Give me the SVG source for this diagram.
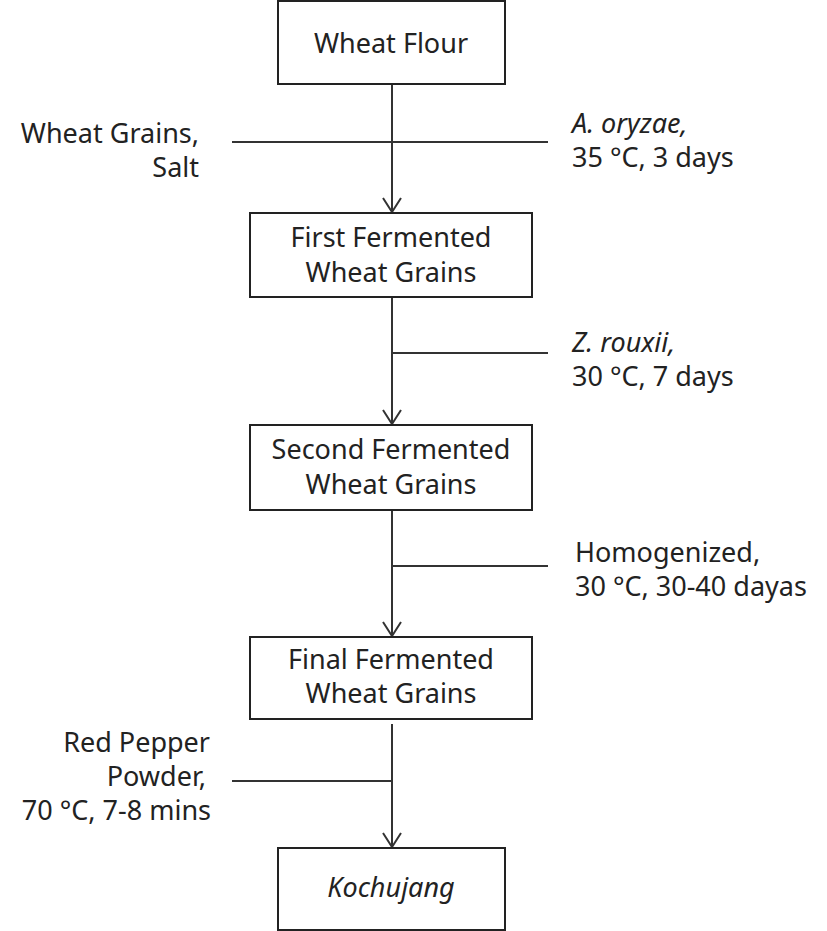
<svg xmlns="http://www.w3.org/2000/svg" width="827" height="931" viewBox="0 0 827 931">
<style>
.box{fill:#fff;stroke:#222;stroke-width:2}
.ln{stroke:#333;stroke-width:2;fill:none}
text{font-family:"Noto Sans","Open Sans",sans-serif;font-size:27px;fill:#222}
.c{text-anchor:middle}
.r{text-anchor:end}
.i{font-style:italic}
</style>
<defs>
<marker id="ah" viewBox="0 0 16 20" refX="15" refY="10" markerWidth="16" markerHeight="20" markerUnits="userSpaceOnUse" orient="auto">
<path d="M1,1 L15,10 L1,19" fill="none" stroke="#333" stroke-width="2"/>
</marker>
</defs>
<rect width="827" height="931" fill="#fff"/>
<g id="connectors">
<line class="ln" x1="392" y1="85" x2="392" y2="212" marker-end="url(#ah)"/>
<line class="ln" x1="232" y1="142" x2="548" y2="142"/>
<line class="ln" x1="392" y1="297" x2="392" y2="424" marker-end="url(#ah)"/>
<line class="ln" x1="392" y1="353" x2="548" y2="353"/>
<line class="ln" x1="392" y1="510" x2="392" y2="636" marker-end="url(#ah)"/>
<line class="ln" x1="392" y1="566" x2="548" y2="566"/>
<line class="ln" x1="392" y1="724" x2="392" y2="847" marker-end="url(#ah)"/>
<line class="ln" x1="232" y1="781" x2="392" y2="781"/>
</g>
<g id="wheat-flour">
<rect class="box" x="278" y="1" width="227" height="83"/>
<text class="c" x="391" y="53">Wheat Flour</text>
</g>
<g id="first-fermented">
<rect class="box" x="250" y="213" width="282" height="84"/>
<text class="c" x="391" y="247">First Fermented</text>
<text class="c" x="391" y="282">Wheat Grains</text>
</g>
<g id="second-fermented">
<rect class="box" x="250" y="425" width="282" height="85"/>
<text class="c" x="391" y="459">Second Fermented</text>
<text class="c" x="391" y="494">Wheat Grains</text>
</g>
<g id="final-fermented">
<rect class="box" x="250" y="637" width="282" height="82"/>
<text class="c" x="391" y="669">Final Fermented</text>
<text class="c" x="391" y="703">Wheat Grains</text>
</g>
<g id="kochujang">
<rect class="box" x="278" y="848" width="227" height="82"/>
<text class="c i" x="391" y="897">Kochujang</text>
</g>
<g id="labels">
<text class="r" x="199" y="143">Wheat Grains,</text>
<text class="r" x="199" y="177">Salt</text>
<text x="572" y="133"><tspan class="i">A. oryzae,</tspan></text>
<text x="572" y="167">35 °C, 3 days</text>
<text x="572" y="352"><tspan class="i">Z. rouxii,</tspan></text>
<text x="572" y="386">30 °C, 7 days</text>
<text x="575" y="562">Homogenized,</text>
<text x="575" y="596">30 °C, 30-40 dayas</text>
<text class="r" x="210" y="752">Red Pepper</text>
<text class="r" x="206" y="786">Powder,</text>
<text class="r" x="211" y="820">70 °C, 7-8 mins</text>
</g>
</svg>
